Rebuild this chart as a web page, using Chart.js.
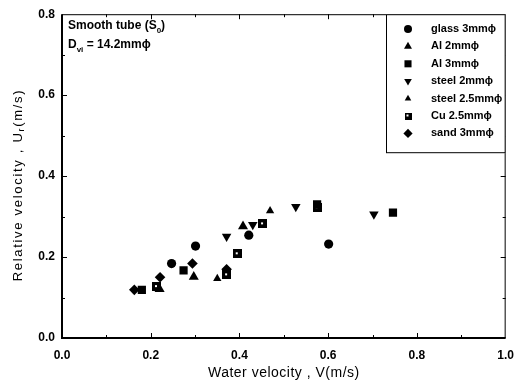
<!DOCTYPE html>
<html>
<head>
<meta charset="utf-8">
<script src="https://cdn.jsdelivr.net/npm/chart.js@4/dist/chart.umd.min.js"></script>
<style>
  html, body { margin: 0; padding: 0; background: #fff; }
  #wrap { width: 524px; height: 390px; }
</style>
</head>
<body>
<div id="wrap"><canvas id="myChart" width="524" height="390"></canvas></div>
<script>
// series values, [V, Ur]
var glass3 = [[0.247, 0.184], [0.301, 0.227], [0.421, 0.254], [0.601, 0.232]];
var al2 = [[0.220, 0.121], [0.297, 0.151], [0.408, 0.276]];
var al3 = [[0.180, 0.119], [0.274, 0.167], [0.575, 0.330], [0.746, 0.310]];
var steel2 = [[0.371, 0.251], [0.430, 0.280], [0.527, 0.324], [0.703, 0.306]];
var steel25 = [[0.350, 0.147], [0.469, 0.314]];
var cu25 = [[0.213, 0.127], [0.371, 0.156], [0.395, 0.208], [0.452, 0.282], [0.575, 0.322]];
var sand3 = [[0.163, 0.119], [0.221, 0.150], [0.294, 0.184], [0.371, 0.170]];

var labels = ['glass 3mm\u03d5', 'Al 2mm\u03d5', 'Al 3mm\u03d5', 'steel 2mm\u03d5', 'steel 2.5mm\u03d5', 'Cu 2.5mm\u03d5', 'sand 3mm\u03d5'];
var xTicks = [0, 0.2, 0.4, 0.6, 0.8, 1.0];
var yTicks = [0, 0.2, 0.4, 0.6, 0.8];

var FONT = '"Liberation Sans", Arial, Helvetica, sans-serif';

function toPts(arr) {
    return arr.map(function (p) { return {x: p[0], y: p[1]}; });
}

// square with a small white hole (Cu)
function dotSquare(side) {
    var c = document.createElement('canvas');
    c.width = side; c.height = side;
    var g = c.getContext('2d');
    g.fillStyle = '#000';
    g.fillRect(0, 0, side, side);
    g.fillStyle = '#fff';
    g.fillRect(Math.floor(side / 2) - 1, Math.floor(side / 2) - 1, 2, 2);
    return c;
}

var cuMark = dotSquare(9);
var cuLegend = dotSquare(7);

function ds(label, data, style, radius, rotation) {
    return {
        label: label,
        data: toPts(data),
        pointStyle: style,
        pointRadius: radius,
        pointHoverRadius: radius,
        rotation: rotation || 0,
        backgroundColor: '#000',
        borderColor: '#000',
        borderWidth: 0,
        showLine: false
    };
}

var datasets = [
    ds(labels[0], glass3, 'circle', 4.6),
    ds(labels[1], al2, 'triangle', 5.8),
    ds(labels[2], al3, 'rect', 5.8),
    ds(labels[3], steel2, 'triangle', 5.5, 180),
    ds(labels[4], steel25, 'triangle', 4.8),
    ds(labels[5], cu25, cuMark, 5),
    ds(labels[6], sand3, 'rectRot', 5.3)
];
var legendStyles = [
    {pointStyle: 'circle', radius: 4, rotation: 0},
    {pointStyle: 'triangle', radius: 4.6, rotation: 0},
    {pointStyle: 'rect', radius: 5, rotation: 0},
    {pointStyle: 'triangle', radius: 4.4, rotation: 180},
    {pointStyle: 'triangle', radius: 3.8, rotation: 0},
    {pointStyle: cuLegend, radius: 4, rotation: 0},
    {pointStyle: 'rectRot', radius: 4.6, rotation: 0}
];

// text with a subscript piece: parts = [[text, isSub], ...]
function subText(ctx, parts, x, y, size) {
    var cx = x;
    parts.forEach(function (p) {
        if (p[1]) {
            ctx.font = 'bold ' + Math.round(size * 0.7) + 'px ' + FONT;
            ctx.fillText(p[0], cx, y + size * 0.3);
        } else {
            ctx.font = 'bold ' + size + 'px ' + FONT;
            ctx.fillText(p[0], cx, y);
        }
        cx += ctx.measureText(p[0]).width;
    });
    return cx - x;
}

var decor = {
    id: 'decor',
    afterDraw: function (chart) {
        var ctx = chart.ctx;
        var a = chart.chartArea;
        var xs = chart.scales.x, ys = chart.scales.y;
        ctx.save();
        ctx.strokeStyle = '#000';
        ctx.fillStyle = '#000';

        // frame
        ctx.lineWidth = 1;
        ctx.strokeRect(a.left + 0.5, a.top + 0.5, a.right - a.left - 1, a.bottom - a.top - 1);
        ctx.lineWidth = 2;
        ctx.beginPath();
        ctx.moveTo(a.left, a.top);
        ctx.lineTo(a.left, a.bottom);
        ctx.lineTo(a.right, a.bottom);
        ctx.stroke();

        // inward ticks, major every 0.2, minor every 0.1
        ctx.lineWidth = 1;
        ctx.beginPath();
        for (var i = 1; i < 10; i++) {
            var v = i / 10;
            var len = (i % 2 === 0) ? 5 : 3;
            var px = Math.round(xs.getPixelForValue(v)) + 0.5;
            ctx.moveTo(px, a.bottom); ctx.lineTo(px, a.bottom - len);
            ctx.moveTo(px, a.top); ctx.lineTo(px, a.top + len);
        }
        for (var j = 1; j < 8; j++) {
            var w = j / 10;
            var l2 = (j % 2 === 0) ? 5 : 3;
            var py = Math.round(ys.getPixelForValue(w)) + 0.5;
            ctx.moveTo(a.left, py); ctx.lineTo(a.left + l2, py);
            ctx.moveTo(a.right, py); ctx.lineTo(a.right - l2, py);
        }
        ctx.stroke();

        // axis titles
        ctx.textBaseline = 'middle';
        ctx.textAlign = 'center';
        ctx.font = '14px ' + FONT;
        ctx.letterSpacing = '0.5px';
        ctx.fillText('Water velocity , V(m/s)', (a.left + a.right) / 2, 373);

        ctx.save();
        ctx.translate(18, 185);
        ctx.rotate(-Math.PI / 2);
        ctx.textAlign = 'left';
        ctx.letterSpacing = '1.7px';
        var t1 = 'Relative velocity , U', t2 = 'r', t3 = '(m/s)';
        ctx.font = '13px ' + FONT;
        var w1 = ctx.measureText(t1).width, w3 = ctx.measureText(t3).width;
        ctx.font = '9px ' + FONT;
        var w2 = ctx.measureText(t2).width;
        var sx = -(w1 + w2 + w3) / 2;
        ctx.font = '13px ' + FONT;
        ctx.fillText(t1, sx, 0);
        ctx.font = '9px ' + FONT;
        ctx.fillText(t2, sx + w1, 4);
        ctx.font = '13px ' + FONT;
        ctx.fillText(t3, sx + w1 + w2, 0);
        ctx.restore();
        ctx.letterSpacing = '0px';

        // annotation
        ctx.textAlign = 'left';
        ctx.textBaseline = 'alphabetic';
        subText(ctx, [['Smooth tube (S', false], ['0', true], [')', false]], a.left + 6, 29, 12);
        subText(ctx, [['D', false], ['vi', true], [' = 14.2mm\u03d5', false]], a.left + 6, 48, 12);

        // legend box
        var bx = 386, by = a.top, bw = a.right - bx, bh = 139;
        ctx.fillStyle = '#fff';
        ctx.fillRect(bx, by, bw, bh);
        ctx.fillStyle = '#000';
        ctx.lineWidth = 1;
        ctx.strokeRect(bx + 0.5, by + 0.5, bw - 1, bh - 1);
        ctx.textBaseline = 'middle';
        chart.data.datasets.forEach(function (d, k) {
            var ly = 29 + k * 17.4;
            var st = legendStyles[k];
            Chart.helpers.drawPoint(ctx, {pointStyle: st.pointStyle, rotation: st.rotation, radius: st.radius, borderWidth: 0}, 408, ly);
            ctx.fillStyle = '#000';
            ctx.font = 'bold 11px ' + FONT;
            ctx.fillText(d.label, 431, ly);
        });
        ctx.restore();
    }
};

var context = document.getElementById('myChart').getContext('2d');

new Chart(context, {
    type: 'scatter',
    data: {datasets: datasets},
    plugins: [decor],
    options: {
        responsive: false,
        animation: false,
        events: [],
        layout: {padding: {left: 0, top: 10, right: 9, bottom: 0}},
        plugins: {legend: {display: false}, tooltip: {enabled: false}},
        scales: {
            x: {
                type: 'linear',
                min: 0, max: 1,
                afterFit: function (s) { s.height = 52; },
                afterBuildTicks: function (s) { s.ticks = xTicks.map(function (v) { return {value: v}; }); },
                grid: {display: false, drawTicks: false},
                border: {display: false},
                ticks: {
                    color: '#000',
                    padding: 10,
                    maxRotation: 0,
                    font: {family: FONT, size: 12, weight: 'bold'},
                    callback: function (v) { return Number(v).toFixed(1); }
                }
            },
            y: {
                type: 'linear',
                min: 0, max: 0.8,
                afterFit: function (s) { s.width = 62; },
                afterBuildTicks: function (s) { s.ticks = yTicks.map(function (v) { return {value: v}; }); },
                grid: {display: false, drawTicks: false},
                border: {display: false},
                ticks: {
                    color: '#000',
                    padding: 7,
                    font: {family: FONT, size: 12, weight: 'bold'},
                    callback: function (v) { return Number(v).toFixed(1); }
                }
            }
        }
    }
});
</script>
</body>
</html>
